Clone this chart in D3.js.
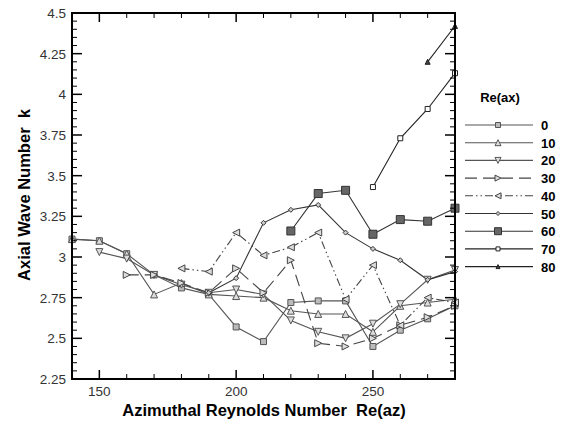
<!DOCTYPE html>
<html lang="en">
<head>
<meta charset="UTF-8">
<title>Axial wave number</title>
<script src="https://d3js.org/d3.v7.min.js"></script>
<style>
  body { margin: 0; background: #fff; }
  svg { display: block; }
  text { font-family: "Liberation Sans", Arial, sans-serif; }
  .tick-label { font-size: 13.5px; fill: #333; }
  .axis-title { font-size: 16.5px; font-weight: bold; fill: #000; white-space: pre; }
  .legend text { font-size: 13px; font-weight: bold; fill: #000; }
</style>
</head>
<body>
<svg id="chart" width="576" height="424"></svg>
<script>
// Re(az) values shared by all series
const reAz = [140, 150, 160, 170, 180, 190, 200, 210, 220, 230, 240, 250, 260, 270, 280];

// one array per Re(ax) case, values start at the given Re(az)
const k0  = [3.11, 3.10, 3.02, 2.89, 2.81, 2.77, 2.57, 2.48, 2.72, 2.73, 2.73, 2.45, 2.55, 2.62, 2.70];
const k10 = [3.11, 3.10, 3.02, 2.77, 2.84, 2.77, 2.76, 2.75, 2.67, 2.65, 2.65, 2.54, 2.70, 2.72, 2.74];
const k20 = [3.03, 2.99, 2.89, 2.83, 2.78, 2.80, 2.77, 2.61, 2.54, 2.50, 2.59, 2.71, 2.86, 2.92];
const k30 = [2.89, 2.89, 2.84, 2.78, 2.93, 2.78, 2.98, 2.47, 2.45, 2.50, 2.58, 2.63, 2.70];
const k40 = [2.93, 2.91, 3.15, 3.01, 3.06, 3.15, 2.74, 2.95, 2.58, 2.75, 2.72];
const k50 = [2.78, 2.87, 3.21, 3.29, 3.32, 3.15, 3.05, 2.98, 2.86, 2.91];
const k60 = [3.16, 3.39, 3.41, 3.14, 3.23, 3.22, 3.30];
const k70 = [3.43, 3.73, 3.91, 4.13];
const k80 = [4.20, 4.42];

const startRe = [140, 140, 150, 160, 180, 190, 220, 250, 270];
const labels  = ["0", "10", "20", "30", "40", "50", "60", "70", "80"];

const xTicks = [150, 200, 250];
const yTicks = [2.25, 2.5, 2.75, 3, 3.25, 3.5, 3.75, 4, 4.25, 4.5];

// drawing styles
const styles = [
  {marker: "square",   size: 6, fill: "#bbb", stroke: "#555", line: "#555", dash: null},
  {marker: "triUp",    size: 7, fill: "#ddd", stroke: "#555", line: "#555", dash: null},
  {marker: "triDown",  size: 7, fill: "#ddd", stroke: "#555", line: "#555", dash: null},
  {marker: "triRight", size: 7, fill: "#ddd", stroke: "#444", line: "#444", dash: "12,6"},
  {marker: "triLeft",  size: 7, fill: "#ddd", stroke: "#444", line: "#444", dash: "8,3,1.5,3,1.5,3"},
  {marker: "diamond",  size: 5, fill: "#ccc", stroke: "#333", line: "#333", dash: null},
  {marker: "square",   size: 8, fill: "#666", stroke: "#333", line: "#333", dash: null},
  {marker: "square",   size: 5, fill: "#fff", stroke: "#222", line: "#222", dash: null},
  {marker: "triUp",    size: 5, fill: "#444", stroke: "#222", line: "#222", dash: null}
];

const allK = [k0, k10, k20, k30, k40, k50, k60, k70, k80];
const series = allK.map((vals, i) => {
  const s = reAz.indexOf(startRe[i]);
  return {name: labels[i], style: styles[i],
    pts: vals.map((v, j) => ({x: reAz[s + j], y: v}))};
});

const svg = d3.select("#chart");
const L = 72, R = 455, T = 13, B = 379;

const x = d3.scaleLinear().domain([140, 280]).range([L, R]);
const y = d3.scaleLinear().domain([2.25, 4.5]).range([B, T]);

function markerPath(kind, s) {
  const h = s / 2;
  switch (kind) {
    case "square": return `M${-h},${-h}H${h}V${h}H${-h}Z`;
    case "triUp": return `M0,${-h}L${h},${h}L${-h},${h}Z`;
    case "triDown": return `M0,${h}L${h},${-h}L${-h},${-h}Z`;
    case "triRight": return `M${h},0L${-h},${-h}L${-h},${h}Z`;
    case "triLeft": return `M${-h},0L${h},${-h}L${h},${h}Z`;
    case "diamond": return `M0,${-h}L${h},0L0,${h}L${-h},0Z`;
  }
}

const line = d3.line().x(d => x(d.x)).y(d => y(d.y));

const plot = svg.append("g");
series.forEach(s => {
  plot.append("path")
    .datum(s.pts)
    .attr("d", line)
    .attr("fill", "none")
    .attr("stroke", s.style.line)
    .attr("stroke-width", 1.1)
    .attr("stroke-dasharray", s.style.dash);
});
series.forEach(s => {
  plot.selectAll(null)
    .data(s.pts)
    .join("path")
    .attr("transform", d => `translate(${x(d.x)},${y(d.y)})`)
    .attr("d", markerPath(s.style.marker, s.style.size))
    .attr("fill", s.style.fill)
    .attr("stroke", s.style.stroke)
    .attr("stroke-width", 1);
});

// axes: ticks pointing inward on all four sides
const minorX = d3.range(150, 281, 10).filter(v => !xTicks.includes(v));
const minorY = d3.range(2.3, 4.5, 0.05).filter(v => !yTicks.some(t => Math.abs(t - v) < 1e-6));

const axes = svg.append("g");
function ticksX(vals, len, w) {
  vals.forEach(v => {
    axes.append("line").attr("x1", x(v)).attr("x2", x(v)).attr("y1", B).attr("y2", B - len)
      .attr("stroke", "#000").attr("stroke-width", w);
    axes.append("line").attr("x1", x(v)).attr("x2", x(v)).attr("y1", T).attr("y2", T + len)
      .attr("stroke", "#000").attr("stroke-width", w);
  });
}
function ticksY(vals, len, w) {
  vals.forEach(v => {
    axes.append("line").attr("y1", y(v)).attr("y2", y(v)).attr("x1", L).attr("x2", L + len)
      .attr("stroke", "#000").attr("stroke-width", w);
    axes.append("line").attr("y1", y(v)).attr("y2", y(v)).attr("x1", R).attr("x2", R - len)
      .attr("stroke", "#000").attr("stroke-width", w);
  });
}
ticksX(minorX, 5, 1);
ticksX(xTicks, 9, 1.5);
ticksY(minorY, 5, 1);
ticksY(yTicks, 10, 1.5);

axes.append("rect")
  .attr("x", L).attr("y", T).attr("width", R - L).attr("height", B - T)
  .attr("fill", "none").attr("stroke", "#000").attr("stroke-width", 2);

axes.selectAll(".xl")
  .data(xTicks)
  .join("text")
  .attr("class", "tick-label")
  .attr("x", d => x(d))
  .attr("y", B + 17)
  .attr("text-anchor", "middle")
  .text(d => d);

axes.selectAll(".yl")
  .data(yTicks)
  .join("text")
  .attr("class", "tick-label")
  .attr("x", L - 6)
  .attr("y", d => y(d) + 5)
  .attr("text-anchor", "end")
  .text(d => d);

svg.append("text")
  .attr("class", "axis-title")
  .attr("x", 264).attr("y", 416)
  .attr("text-anchor", "middle")
  .text("Azimuthal Reynolds Number  Re(az)");

svg.append("text")
  .attr("class", "axis-title")
  .attr("transform", "translate(30,195) rotate(-90)")
  .attr("text-anchor", "middle")
  .text("Axial Wave Number  k");

// legend
const leg = svg.append("g").attr("class", "legend");
leg.append("text").attr("x", 500).attr("y", 102).attr("text-anchor", "middle").text("Re(ax)");
series.forEach((s, i) => {
  const yy = 125 + i * 17.7;
  leg.append("line")
    .attr("x1", 465).attr("x2", 533).attr("y1", yy).attr("y2", yy)
    .attr("stroke", s.style.line).attr("stroke-width", 1.1)
    .attr("stroke-dasharray", s.style.dash);
  leg.append("path")
    .attr("transform", `translate(498,${yy})`)
    .attr("d", markerPath(s.style.marker, s.style.size - 1))
    .attr("fill", s.style.fill).attr("stroke", s.style.stroke);
  leg.append("text").attr("x", 541).attr("y", yy + 5).text(s.name);
});
</script>
</body>
</html>
